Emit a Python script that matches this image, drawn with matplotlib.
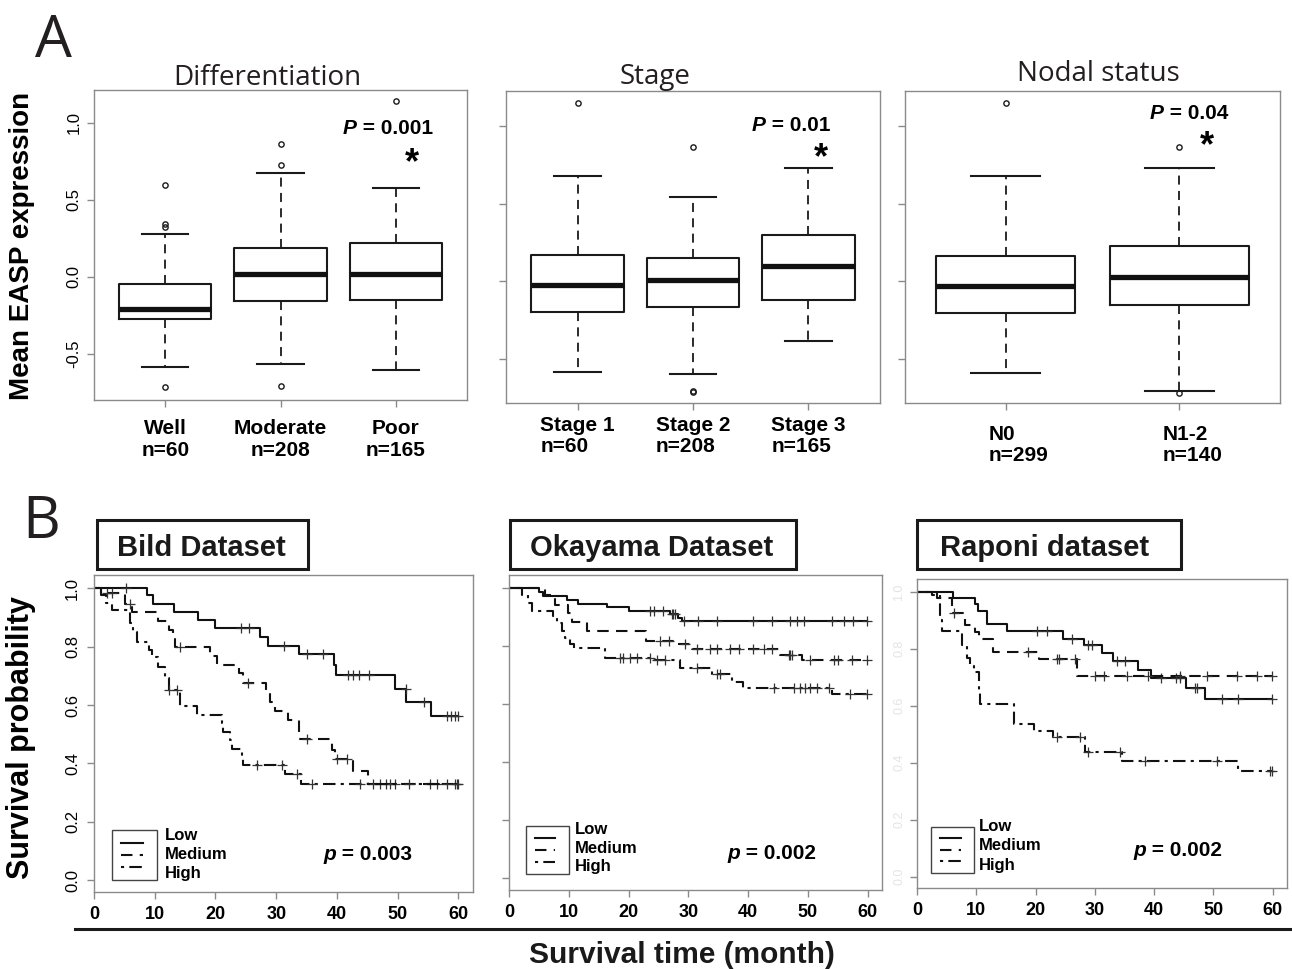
import numpy as np
import matplotlib.pyplot as plt
from matplotlib.patches import Rectangle
from matplotlib.lines import Line2D
from matplotlib import transforms

plt.rcParams['font.family'] = ['Liberation Sans', 'DejaVu Sans']

W, H = 1292, 969

# ---------------- Panel A : box plots ----------------
diff_labels = ["Well\nn=60", "Moderate\nn=208", "Poor\nn=165"]
diff_whishi = [0.279, 0.675, 0.578]
diff_q3 = [-0.045, 0.188, 0.221]
diff_med = [-0.208, 0.019, 0.019]
diff_q1 = [-0.273, -0.156, -0.149]
diff_whislo = [-0.584, -0.565, -0.604]
diff_fliers = [[0.597, 0.344, 0.325, -0.714], [0.864, 0.727, -0.708], [1.143]]

stage_labels = ["Stage 1\nn=60", "Stage 2\nn=208", "Stage 3\nn=165"]
stage_whishi = [0.675, 0.540, 0.727]
stage_q3 = [0.167, 0.148, 0.296]
stage_med = [-0.026, 0.006, 0.096]
stage_q1 = [-0.199, -0.167, -0.122]
stage_whislo = [-0.585, -0.598, -0.386]
stage_fliers = [[1.145], [0.862, -0.705, -0.712], []]

nodal_labels = ["N0\nn=299", "N1-2\nn=140"]
nodal_whishi = [0.675, 0.727]
nodal_q3 = [0.161, 0.225]
nodal_med = [-0.032, 0.026]
nodal_q1 = [-0.206, -0.154]
nodal_whislo = [-0.592, -0.707]
nodal_fliers = [[1.145], [0.862, -0.72]]

box_yticks = [-0.5, 0.0, 0.5, 1.0]
box_yticklabels = ["-0.5", "0.0", "0.5", "1.0"]

# ---------------- Panel B : Kaplan-Meier curves (step times / survival) ----------------
groups = ["Low", "Medium", "High"]

bild_low_t = [0, 8.7, 9.7, 13.2, 17.1, 20.0, 27.4, 28.6, 33.8, 39.5, 39.8, 49.5, 51.4, 55.5]
bild_low_s = [1.0, 0.975, 0.947, 0.919, 0.890, 0.862, 0.833, 0.803, 0.773, 0.738, 0.702, 0.656, 0.611, 0.562]
bild_low_c = [5.3, 24.2, 25.6, 31.2, 35.1, 37.7, 41.9, 42.7, 43.6, 45.3, 51.3, 54.4, 58.1, 58.8, 59.5, 60.0]
bild_med_t = [0, 1.1, 5.1, 6.3, 10.6, 12.4, 13.0, 13.4, 19.1, 20.2, 23.8, 24.5, 28.3, 29.0, 29.8,
              32.0, 33.8, 39.2, 39.7, 42.7, 45.1]
bild_med_s = [1.0, 0.982, 0.947, 0.917, 0.888, 0.856, 0.827, 0.797, 0.767, 0.737, 0.708, 0.676, 0.642,
              0.611, 0.579, 0.548, 0.482, 0.445, 0.414, 0.373, 0.329]
bild_med_c = [2.1, 2.9, 6.0, 14.2, 25.4, 35.1, 40.0, 41.6, 46.0, 47.1, 48.0, 48.8, 49.6, 55.4, 56.5, 59.5, 60.0]
bild_high_t = [0, 1.2, 2.0, 3.0, 5.9, 6.5, 7.0, 9.0, 9.5, 10.6, 11.7, 12.3, 14.2, 16.9, 21.0, 21.3,
               22.4, 22.7, 24.3, 24.6, 31.5, 34.1]
bild_high_s = [1.0, 0.975, 0.950, 0.925, 0.879, 0.850, 0.816, 0.788, 0.765, 0.731, 0.691, 0.651, 0.597,
               0.565, 0.537, 0.508, 0.479, 0.451, 0.422, 0.394, 0.365, 0.329]
bild_high_c = [12.3, 13.7, 26.8, 30.9, 33.4, 35.9, 43.8, 51.8, 58.1, 59.8]

oka_low_t = [0, 5.1, 5.7, 9.7, 11.6, 16.4, 20.1, 27.0, 28.3, 28.9]
oka_low_s = [1.0, 0.986, 0.974, 0.960, 0.946, 0.934, 0.920, 0.909, 0.897, 0.888]
oka_low_c = [23.6, 24.2, 25.8, 27.2, 27.5, 27.8, 29.2, 31.7, 34.8, 40.9, 44.0, 47.0, 48.2, 49.3,
             54.0, 56.0, 57.6, 59.9]
oka_med_t = [0, 6.0, 7.7, 9.8, 10.5, 13.0, 23.0, 28.3, 30.6, 45.4, 49.0]
oka_med_s = [1.0, 0.977, 0.943, 0.914, 0.883, 0.851, 0.817, 0.806, 0.789, 0.771, 0.752]
oka_med_c = [25.3, 26.7, 29.5, 31.4, 33.6, 34.8, 37.0, 38.4, 40.9, 42.6, 44.0, 46.8, 47.0, 47.3,
             50.4, 54.3, 55.1, 57.4, 59.9]
oka_high_t = [0, 2.1, 3.2, 3.8, 7.4, 8.0, 8.8, 9.4, 10.2, 10.8, 16.1, 24.2, 28.6, 33.9, 37.3, 39.2, 54.0]
oka_high_s = [1.0, 0.977, 0.949, 0.922, 0.903, 0.880, 0.851, 0.829, 0.806, 0.792, 0.760, 0.751, 0.723,
              0.703, 0.678, 0.657, 0.634]
oka_high_c = [18.6, 19.1, 20.3, 21.4, 23.6, 24.7, 26.1, 31.4, 34.8, 35.3, 44.3, 47.6, 48.7, 49.6,
              50.4, 51.5, 53.5, 57.1, 59.9]

rap_low_t = [0, 6.1, 9.7, 10.3, 11.8, 15.1, 24.6, 28.2, 31.2, 33.1, 37.2, 39.4, 45.4, 48.6]
rap_low_s = [1.0, 0.979, 0.958, 0.932, 0.887, 0.864, 0.835, 0.814, 0.785, 0.758, 0.726, 0.699, 0.662, 0.623]
rap_low_c = [20.2, 21.9, 26.1, 28.9, 29.5, 33.7, 35.1, 41.1, 43.7, 44.4, 46.9, 47.2, 51.4, 54.2, 59.9]
rap_med_t = [0, 3.4, 5.9, 8.1, 9.8, 10.4, 12.9, 20.5, 27.0]
rap_med_s = [1.0, 0.98, 0.926, 0.885, 0.859, 0.835, 0.789, 0.764, 0.706]
rap_med_c = [6.2, 18.8, 23.6, 23.9, 26.7, 30.1, 31.5, 35.4, 39.0, 44.4, 48.9, 53.9, 57.3, 59.9]
rap_high_t = [0, 2.5, 3.9, 4.2, 7.6, 8.4, 9.0, 9.6, 10.4, 10.7, 16.3, 19.7, 23.0, 28.4, 34.6, 54.2]
rap_high_s = [1.0, 0.99, 0.90, 0.861, 0.814, 0.767, 0.74, 0.720, 0.65, 0.606, 0.536, 0.511, 0.489,
              0.438, 0.407, 0.370]
rap_high_c = [23.6, 27.5, 28.9, 34.3, 38.5, 50.6, 59.6, 59.9]

km_xticks = [0, 10, 20, 30, 40, 50, 60]
km_yticks = [0.0, 0.2, 0.4, 0.6, 0.8, 1.0]

frame_col = '#8a8a8a'
km_styles = ['-', (0, (5.5, 3.5)), (0, (1.5, 2.5, 6, 2.5))]

fig = plt.figure(figsize=(W / 100, H / 100), dpi=100)


def px_axes(l, t, r, b):
    return fig.add_axes([l / W, 1 - b / H, (r - l) / W, (b - t) / H])


def px(x, y):
    return x / W, 1 - y / H


def style_frame(ax):
    for sp in ax.spines.values():
        sp.set_color(frame_col)
        sp.set_linewidth(1.0)
    ax.tick_params(direction='out', length=5, width=1, color=frame_col)


def ptext(x, y, letter, rest, size):
    t1 = fig.text(*px(x, y), letter, style='italic', weight='bold', fontsize=size,
                  ha='left', va='baseline')
    w = t1.get_window_extent(fig.canvas.get_renderer()).width
    tr = transforms.offset_copy(fig.transFigure, fig=fig, x=w, y=0, units='dots')
    fig.text(*px(x, y), rest, weight='bold', fontsize=size, ha='left', va='baseline', transform=tr)


def box_panel(ax, labels, whishi, q3, med, q1, whislo, fliers, ylim):
    stats = []
    for i in range(len(labels)):
        stats.append(dict(med=med[i], q1=q1[i], q3=q3[i], whislo=whislo[i], whishi=whishi[i],
                          fliers=fliers[i]))
    pos = np.arange(1, len(labels) + 1)
    ax.bxp(stats, positions=pos, widths=0.8, manage_ticks=False,
           boxprops=dict(color='#1a1a1a', lw=1.5),
           medianprops=dict(color='#111111', lw=3.8, solid_capstyle='butt'),
           whiskerprops=dict(color='#1a1a1a', lw=1.3, ls=(0, (5, 3.5))),
           capprops=dict(color='#1a1a1a', lw=1.5),
           flierprops=dict(marker='o', ms=3.8, mfc='none', mec='#1a1a1a', mew=1))
    n = len(labels)
    ax.set_xlim(0.5 - 0.04 * n, n + 0.5 + 0.04 * n)
    ax.set_ylim(*ylim)
    ax.set_xticks(pos)
    ax.set_xticklabels(labels, fontsize=15, weight='bold', linespacing=1.15)
    ax.set_yticks(box_yticks)
    style_frame(ax)


# ---------------- Panel A ----------------
axA1 = px_axes(94, 90, 467, 400)
box_panel(axA1, diff_labels, diff_whishi, diff_q3, diff_med, diff_q1, diff_whislo, diff_fliers,
          (-0.799, 1.214))
axA1.set_yticklabels(box_yticklabels, fontsize=12, rotation=90, va='center')
axA1.tick_params(axis='x', pad=9)
axA1.tick_params(axis='y', pad=4)

axA2 = px_axes(506, 91, 880, 403)
box_panel(axA2, stage_labels, stage_whishi, stage_q3, stage_med, stage_q1, stage_whislo, stage_fliers,
          (-0.783, 1.225))
axA2.set_yticklabels([])
axA2.tick_params(axis='x', pad=4)
for lab in axA2.get_xticklabels():
    lab.set_multialignment('left')

axA3 = px_axes(905, 91, 1280, 403)
box_panel(axA3, nodal_labels, nodal_whishi, nodal_q3, nodal_med, nodal_q1, nodal_whislo, nodal_fliers,
          (-0.783, 1.225))
axA3.set_yticklabels([])
axA3.tick_params(axis='x', pad=11)
shift = transforms.ScaledTranslation(13 / 100, 0, fig.dpi_scale_trans)
for lab in axA3.get_xticklabels():
    lab.set_multialignment('left')
    lab.set_transform(lab.get_transform() + shift)

fig.text(*px(267, 85), "Differentiation", family='Open Sans', fontsize=20, ha='center', va='baseline',
         color='#231f20')
fig.text(*px(655, 84), "Stage", family='Open Sans', fontsize=20, ha='center', va='baseline', color='#231f20')
fig.text(*px(1098, 81), "Nodal status", family='Open Sans', fontsize=20, ha='center', va='baseline',
         color='#231f20')
fig.text(*px(22, 246), "Mean EASP expression", rotation=90, fontsize=20, weight='bold',
         ha='center', va='center')

ptext(343, 134, "P", " = 0.001", 15)
ptext(752, 131, "P", " = 0.01", 15)
ptext(1150, 119, "P", " = 0.04", 15)
for cx, cy in [(412, 152), (821, 147), (1207, 135)]:
    fig.text(*px(cx, cy + 21), "*", fontsize=26, weight='bold', ha='center', va='baseline')

fig.text(*px(35, 57), "A", family='Open Sans', fontsize=42, ha='left', va='baseline', color='#231f20')
fig.text(*px(22, 538), "B", family='Open Sans', fontsize=42, ha='left', va='baseline', color='#231f20')


# ---------------- Panel B ----------------
def km_curve(ax, t, s, cens, ls):
    t_end = max(cens[-1], t[-1])
    ax.step(list(t) + [t_end], list(s) + [s[-1]], where='post', color='#111111', lw=1.5, ls=ls)
    idx = np.searchsorted(t, cens, side='right') - 1
    ax.plot(cens, np.asarray(s)[idx], ls='none', marker='+', ms=7, mew=0.9, color='#333333')


def km_panel(ax, curves, leg):
    for (t, s, c), ls in zip(curves, km_styles):
        km_curve(ax, t, s, c, ls)
    ax.set_xlim(0, 62.4)
    ax.set_ylim(-0.04, 1.045)
    ax.set_xticks(km_xticks)
    ax.set_xticklabels([str(v) for v in km_xticks], fontsize=13, weight='bold')
    ax.set_yticks(km_yticks)
    style_frame(ax)
    ax.tick_params(axis='x', pad=5)
    rect, line_y, line_x, lab_x, lab_y = leg
    ax.add_patch(Rectangle(rect[:2], rect[2], rect[3], transform=ax.transAxes, fill=False,
                           ec='#444444', lw=1))
    for yy, ls in zip(line_y, km_styles):
        ax.plot(line_x, [yy, yy], transform=ax.transAxes, color='#111111', lw=1.5, ls=ls)
    for yy, g in zip(lab_y, groups):
        ax.text(lab_x, yy, g, transform=ax.transAxes, fontsize=12, weight='bold', ha='left', va='center')


axB1 = px_axes(94, 575, 473, 892)
km_panel(axB1, [(bild_low_t, bild_low_s, bild_low_c), (bild_med_t, bild_med_s, bild_med_c),
                (bild_high_t, bild_high_s, bild_high_c)],
         ((0.047, 0.038, 0.119, 0.158), [0.155, 0.117, 0.079], [0.071, 0.129], 0.187,
          [0.177, 0.117, 0.057]))
axB1.set_yticklabels(["0.0", "0.2", "0.4", "0.6", "0.8", "1.0"], fontsize=12, rotation=90, va='center')
axB1.tick_params(axis='y', pad=5)

axB2 = px_axes(509, 575, 882, 890)
km_panel(axB2, [(oka_low_t, oka_low_s, oka_low_c), (oka_med_t, oka_med_s, oka_med_c),
                (oka_high_t, oka_high_s, oka_high_c)],
         ((0.045, 0.05, 0.115, 0.154), [0.166, 0.127, 0.09], [0.07, 0.123], 0.177,
          [0.193, 0.132, 0.074]))
axB2.set_yticklabels([])

axB3 = px_axes(917, 579, 1287, 888)
km_panel(axB3, [(rap_low_t, rap_low_s, rap_low_c), (rap_med_t, rap_med_s, rap_med_c),
                (rap_high_t, rap_high_s, rap_high_c)],
         ((0.039, 0.048, 0.116, 0.15), [0.163, 0.123, 0.086], [0.063, 0.119], 0.168,
          [0.198, 0.136, 0.074]))
axB3.set_yticklabels(["0.0", "0.2", "0.4", "0.6", "0.8", "1.0"], fontsize=9, rotation=90, va='center',
                     color='#e4e4e4')

ptext(323, 860, "p", " = 0.003", 15)
ptext(727, 859, "p", " = 0.002", 15)
ptext(1133, 856, "p", " = 0.002", 15)

# dataset title boxes
for (l, t, r, b), title, cx in [((97, 520, 308, 569), "Bild Dataset", 201),
                                ((510, 520, 796, 569), "Okayama Dataset", 652),
                                ((917, 520, 1181, 569), "Raponi dataset", 1045)]:
    fig.add_artist(Rectangle(px(l, b), (r - l) / W, (b - t) / H, transform=fig.transFigure,
                             fill=False, ec='#1a1a1a', lw=2.2))
    fig.text(*px(cx, 556), title, fontsize=21, weight='bold', ha='center', va='baseline', color='#1a1a1a')

fig.text(*px(21, 738), "Survival probability", rotation=90, fontsize=22, weight='bold',
         ha='center', va='center')
fig.add_artist(Line2D([75 / W, 1.0], [1 - 929 / H, 1 - 929 / H], transform=fig.transFigure,
                      color='#1a1a1a', lw=2.2))
fig.text(*px(682, 955), "Survival time (month)", fontsize=21.5, weight='bold', ha='center', va='center',
         color='#1a1a1a')

fig.savefig("out.png", dpi=100)
